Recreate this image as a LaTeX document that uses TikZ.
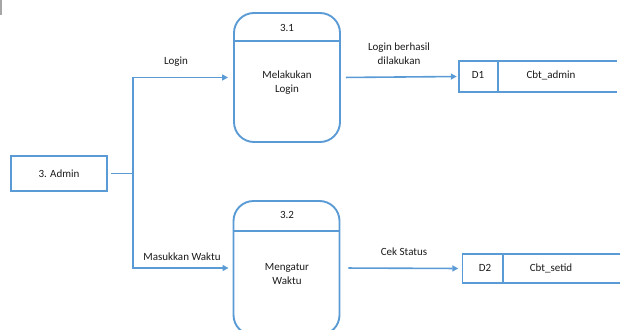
\documentclass[tikz,border=0pt]{standalone}
\usepackage{fontspec}
\setmainfont{Carlito}
\usetikzlibrary{arrows.meta,calc}
\definecolor{dfdblue}{HTML}{5B9BD5}
\definecolor{txt}{HTML}{1A1A1A}
\tikzset{
  every node/.style={font=\fontsize{11}{13}\selectfont, text=txt},
  proc/.style={draw=dfdblue, line width=1.9pt, rounded corners=20pt, minimum width=106pt, inner sep=0pt},
  ext/.style={draw=dfdblue, line width=1.7pt, minimum width=96pt, minimum height=35pt, inner sep=0pt},
  store/.style={minimum width=158pt, inner sep=0pt},
  sline/.style={draw=dfdblue, line width=1.5pt},
  flow/.style={draw=dfdblue, line width=1.6pt, -{Triangle[length=6pt,width=6pt]}},
  lbl/.style={inner sep=0pt, align=center}
}
\begin{document}
\begin{tikzpicture}[x=1pt,y=-1pt]
\useasboundingbox (0,0) rectangle (620,329);
\clip (0,0) rectangle (620,329);
\fill[gray!70] (0,0) rectangle (2,15);
% processes
\node[proc, minimum height=129pt] (p1) at (287,77.5) {};
\node[proc, minimum height=134pt] (p2) at (286.5,268) {};
\draw[dfdblue, line width=1.6pt] (p1.west |- 0,41) -- (p1.east |- 0,41);
\draw[dfdblue, line width=1.6pt] (p2.west |- 0,231) -- (p2.east |- 0,231);
\node[lbl] (p1n) at (287,28) {3.1};
\node[lbl] (p1t) at (287,83) {Melakukan\\[1pt]Login};
\node[lbl] (p2n) at (287,215) {3.2};
\node[lbl] (p2t) at (287,274.5) {Mengatur\\[1pt]Waktu};
% external entity
\node[ext] (admin) at (59,173.5) {3. Admin};
% data stores
\node[store, minimum height=31pt] (s1) at (538,76.5) {};
\draw[sline] (s1.north east) -- (s1.north west) -- (s1.south west) -- (s1.south east);
\draw[sline] (498,61) -- (498,92);
\node[lbl] (d1) at (478,75) {D1};
\node[lbl] (c1) at (551,75) {Cbt\_admin};
\node[store, minimum height=29pt] (s2) at (541.5,268.5) {};
\draw[sline] (s2.north east) -- (s2.north west) -- (s2.south west) -- (s2.south east);
\draw[sline] (503,254) -- (503,283);
\node[lbl] (d2) at (485,268) {D2};
\node[lbl] (c2) at (551,268) {Cbt\_setid};
% connectors
\coordinate (j) at (133,173.5);
\draw[dfdblue, line width=1.6pt, shorten <=3pt] (admin.east) -- (j);
\draw[flow, shorten >=5pt] (j) |- (p1.west);
\draw[flow, shorten >=4pt] (j) |- (p2.west);
\draw[flow, shorten <=5pt, shorten >=2pt] (p1.east) -- (s1.west);
\draw[flow, shorten <=8pt, shorten >=4pt] (p2.east) -- (s2.west);
% flow labels
\node[lbl] (l1) at (176,62) {Login};
\node[lbl] (l2) at (182,257) {Masukkan Waktu};
\node[lbl] (l3) at (399,54) {Login berhasil\\[1pt]dilakukan};
\node[lbl] (l4) at (404,252) {Cek Status};
\end{tikzpicture}
\end{document}
